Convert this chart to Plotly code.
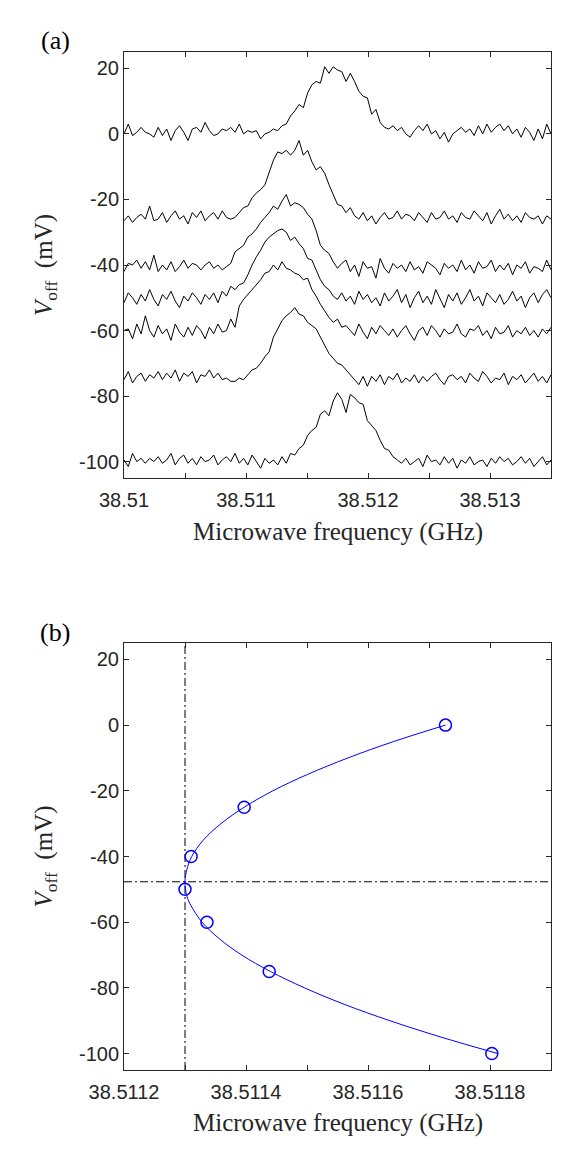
import numpy as np
import plotly.graph_objects as go

W, H = 580, 1174

# ---------------- Panel (a) data ----------------
F_START = 38.51          # GHz, first sweep point
F_STEP = 0.000035        # GHz, sweep step

offsets_a = [0, -25, -40, -50, -60, -75, -100]

trace_0 = [0, 3, -0.5, 0.5, 2, 0.5, 0, -1, 2, -0.5, 1.5, -2, 1, 2.5, 0.5, -2, 1.5, 2, 0.5, 3.5,
           1, -0.5, 0, 1.5, 1, 2, 0.5, 3, 0, 1, 0.5, 1, -1.5,
           0.0, 0.5, 1.5, 1.0, 2.5, 3.0, 5.5, 7.0, 9.0, 8.0, 12.5, 15.0, 16.0, 15.5, 20.5, 18.5, 20.5,
           19.5, 19.0, 16.0, 18.5, 16.0, 13.0, 11.5, 11.0, 6.0, 7.5, 3.5, 2.0, 1.5, 2.5, 1.0, 2.0, 0.0, -1.0,
           1.0, 2.5, 1.0, 3.0, 0.0, 1.0, -1.5, 0.5, -2.5, 0.0, 1.0, 2.0, 0.5, 1.5, -0.5, 2.5, 0.0, 3.0,
           0.5, 2.0, 3.0, 1.0, 2.5, 0.0, 1.5, -1.0, 2.0, 0.5, -2.0, 1.5, -1.5, 3.0, 0.0]

trace_m25 = [-26.5, -25, -27, -25.5, -24.5, -26, -22, -26.5, -26, -24, -27, -25, -23.5, -26, -25,
             -27.5, -24, -25.5, -23.5, -26.5, -25, -24, -26, -23.5, -25.5, -26,
             -25.5, -24, -22.5, -22, -19.5, -18, -17, -15.5, -12, -8, -5.5, -6, -5, -6.5, -5,
             -2, -6.5, -5, -8.5, -11, -10, -12, -15.5, -18.5, -21.5, -22, -24, -22.5, -25, -26, -24, -26.5,
             -25, -27.5, -25.5, -24, -26, -25.5, -23.5, -26, -24.5, -25, -26.5, -24, -25.5, -27, -24,
             -26, -25.5, -23.5, -26, -25, -27, -24, -25.5, -26, -23.5, -25, -26.5, -24, -27.5, -25,
             -23, -26, -24.5, -26.5, -25, -27, -24, -25.5, -26, -25, -27.5, -25, -26]

trace_m40 = [-42, -39.5, -40, -38.5, -41, -39, -41.5, -37, -42, -40, -41.5, -39, -42, -40.5, -38.5,
             -41, -39.5, -40, -41.5, -40, -39, -41, -40, -41.5,
             -40.5, -39.5, -36, -35, -34, -31.5, -30.5, -29, -27, -25.5, -24, -22, -23, -20.5, -18.5,
             -22, -21, -21.5, -22.5, -24.5, -26, -29.5, -34, -35.5, -36.5, -39, -41, -39.5,
             -38.5, -42, -40, -43.5, -39, -41, -40.5, -44, -38, -41, -42.5, -39.5, -41, -40, -42,
             -39, -41.5, -40.5, -42.5, -39, -40, -41, -43, -39.5, -41, -40, -42, -38.5, -41.5, -40,
             -42.5, -39, -41, -40.5, -38.5, -42, -40, -41.5, -39.5, -43, -40, -41, -39, -42.5, -40.5,
             -41, -42, -38.5, -41.5]

trace_m50 = [-51.5, -48.5, -50, -52, -49, -51, -47.5, -50.5, -52.5, -49, -50.5, -48, -51, -53, -49.5,
             -51, -48.5, -50, -52, -49, -50.5, -48.5,
             -51.5, -48, -49.5, -46.5, -47.5, -46, -45.5, -43, -40, -37.5, -35.5, -33, -31.5, -30.5, -29.5,
             -29, -30, -32.5, -31.5, -33.5, -35, -38, -38.5, -41.5, -44.5, -46.5, -47.5, -49.5, -50.5,
             -48.5, -51, -49.5, -52, -48, -50.5, -49, -51.5, -50, -52.5, -48.5, -51, -49.5, -47.5, -51.5,
             -49, -53, -50, -48, -51.5, -49.5, -52, -47.5, -50.5, -53, -49, -51, -48.5, -52, -50,
             -47.5, -51, -49.5, -52.5, -48.5, -50, -51.5, -49, -52, -50.5, -48, -51, -49.5, -53, -50,
             -48.5, -51.5, -49, -47.5, -50]

trace_m60 = [-60, -59.5, -62.5, -58, -61, -55.5, -60, -62, -58.5, -61, -59.5, -63, -58, -60.5, -62,
             -59, -61.5, -58.5, -60, -62.5, -59, -61, -58, -60.5,
             -60, -56.5, -59, -52.5, -50.5, -49, -47.5, -46, -44.5, -42.5, -42, -40, -41.5, -39, -41,
             -41.5, -42.5, -43, -44.5, -44, -47.5, -49.5, -52, -54, -56, -57.5, -56.5, -59,
             -58.5, -60, -61.5, -58, -60.5, -62.5, -59, -61, -58.5, -60, -61.5, -59.5, -62, -60, -58.5,
             -61, -63, -60, -59, -61.5, -58.5, -60, -62, -59.5, -61, -60.5, -58, -61, -62, -59.5,
             -60, -58.5, -61.5, -60, -62.5, -59, -61, -60.5, -58.5, -62, -60, -61, -59, -61.5, -60,
             -62, -59.5, -61, -59]

trace_m75 = [-75, -72.5, -76, -74, -73, -75.5, -73.5, -74.5, -72.5, -75, -73, -74.5, -72, -75.5, -73,
             -74, -72.5, -76, -73.5, -74, -72, -74.5, -73, -75, -74.5, -75.5,
             -75.5, -74.5, -75, -73.5, -72, -71.5, -70, -68, -66.5, -62, -59.5, -57, -55.5, -54.5, -53,
             -55, -55.5, -57.5, -58.5, -59.5, -62, -64.5, -67, -68.5, -70, -70.5, -72, -73.5, -75, -76.5, -74,
             -77, -74, -75.5, -73.5, -76.5, -74, -75, -73, -76, -74.5, -75.5, -73.5, -76, -74, -75.5,
             -74, -73, -75, -76.5, -74, -73.5, -75, -74, -76, -73, -74.5, -75.5, -72.5, -74, -76,
             -74.5, -75, -73, -76.5, -74, -75, -73.5, -76, -74.5, -73, -75.5, -74, -76, -73.5]

trace_m100 = [-99.5, -101.5, -97.5, -100, -99, -100.5, -99, -100, -98.5, -100.5, -99.5, -97.5, -101,
              -99, -98, -100.5, -99, -101, -98.5, -100, -99.5, -98, -101, -99.5, -98.5, -100, -97.5,
              -100.5, -99, -101, -98, -100, -102, -99, -100.5, -99.5,
              -101, -98.5, -100.5, -97.5, -98, -96, -95, -92, -90.5, -89.5, -85.5, -84.5, -86, -81.5, -79,
              -81, -85, -79.5, -80.5, -82, -82.5, -87.5, -89, -90.5, -93.5, -96, -96.5, -98.5, -99.5,
              -100.5, -99,
              -101, -100, -99, -101.5, -98, -100, -99.5, -101, -98.5, -100.5, -99, -102, -99.5, -100.5,
              -98.5, -101, -100, -99.5, -101.5, -99, -100.5, -98.5, -100, -99, -101, -100, -98.5,
              -100.5, -99, -101.5, -100, -98.5, -101, -99.5]

traces_a = [trace_0, trace_m25, trace_m40, trace_m50, trace_m60, trace_m75, trace_m100]

xa_tickvals = [38.51, 38.511, 38.512, 38.513]
xa_ticktext = ["38.51", "38.511", "38.512", "38.513"]
xa_minor = [38.5105, 38.5115, 38.5125, 38.5135]
xa_range = [38.51, 38.5135]

# ---------------- Panel (b) data ----------------
volt_b = [0, -25, -40, -50, -60, -75, -100]
freq_b = [38.511727, 38.511397, 38.51131, 38.5113, 38.511336, 38.511438, 38.511803]

fit_volt = [0, -5, -10, -15, -20, -25, -30, -35, -40, -44, -47.7, -52, -55, -60, -65, -70, -75,
            -80, -85, -90, -95, -100]
fit_freq = [38.511727, 38.511642, 38.511567, 38.511501, 38.511444, 38.511397, 38.511359,
            38.511330, 38.511311, 38.511303, 38.511300, 38.511303, 38.511310, 38.511328,
            38.511356, 38.511393, 38.511440, 38.511496, 38.511561, 38.511636, 38.511720, 38.511813]

f_center = 38.5113     # vertical dash-dot line
v_center = -47.7       # horizontal dash-dot line

xb_tickvals = [38.5112, 38.5114, 38.5116, 38.5118]
xb_ticktext = ["38.5112", "38.5114", "38.5116", "38.5118"]
xb_minor = [38.5113, 38.5115, 38.5117, 38.5119]
xb_range = [38.5112, 38.5119]

y_tickvals = [-100, -80, -60, -40, -20, 0, 20]
y_ticktext = ["-100", "-80", "-60", "-40", "-20", "0", "20"]
y_range = [-105, 25]

# ---------------- Figure ----------------
AX = "rgb(38,38,38)"
SANS = "Liberation Sans, Arial, Helvetica, sans-serif"
SERIF = "Liberation Serif, Times New Roman, serif"

fig = go.Figure()

for tr in traces_a:
    f = F_START + F_STEP * np.arange(len(tr))
    fig.add_trace(go.Scatter(x=f, y=tr, mode="lines", line=dict(color="black", width=1),
                             xaxis="x", yaxis="y", showlegend=False, hoverinfo="skip"))

DASHDOT = "8px,3px,2px,3px"
fig.add_trace(go.Scatter(x=[f_center, f_center], y=y_range, mode="lines",
                         line=dict(color="black", width=1, dash=DASHDOT),
                         xaxis="x2", yaxis="y2", showlegend=False))
fig.add_trace(go.Scatter(x=xb_range, y=[v_center, v_center], mode="lines",
                         line=dict(color="black", width=1, dash=DASHDOT),
                         xaxis="x2", yaxis="y2", showlegend=False))
fig.add_trace(go.Scatter(x=fit_freq, y=fit_volt, mode="lines",
                         line=dict(color="blue", width=1, shape="spline"),
                         xaxis="x2", yaxis="y2", showlegend=False))
fig.add_trace(go.Scatter(x=freq_b, y=volt_b, mode="markers",
                         marker=dict(symbol="circle-open", size=12, color="blue",
                                     line=dict(width=1.5, color="blue")),
                         xaxis="x2", yaxis="y2", showlegend=False))


def px_x(x):
    return x / W


def px_y(y):
    return 1 - y / H


L, R = 124, 551
A_T, A_B = 52, 478
B_T, B_B = 643, 1070

common_axis = dict(showline=True, linecolor=AX, linewidth=1, mirror="ticks", ticks="inside",
                   ticklen=5, tickcolor=AX, tickwidth=1, showgrid=False, zeroline=False,
                   automargin=False, tickfont=dict(family=SANS, size=20, color=AX))
minor_style = dict(ticks="inside", ticklen=5, tickcolor=AX, tickwidth=1, showgrid=False)

fig.update_layout(
    template="none",
    width=W, height=H, margin=dict(l=0, r=0, t=0, b=0, pad=0),
    paper_bgcolor="white", plot_bgcolor="white",
    xaxis=dict(domain=[px_x(L), px_x(R)], range=xa_range, tickvals=xa_tickvals, ticktext=xa_ticktext,
               minor=dict(tickvals=xa_minor, **minor_style), anchor="y", ticklabelstandoff=4,
               **common_axis),
    yaxis=dict(domain=[px_y(A_B), px_y(A_T)], range=y_range, tickvals=y_tickvals, ticktext=y_ticktext,
               anchor="x", **common_axis),
    xaxis2=dict(domain=[px_x(L), px_x(R)], range=xb_range, tickvals=xb_tickvals, ticktext=xb_ticktext,
                minor=dict(tickvals=xb_minor, **minor_style), anchor="y2", ticklabelstandoff=4,
                **common_axis),
    yaxis2=dict(domain=[px_y(B_B), px_y(B_T)], range=y_range, tickvals=y_tickvals, ticktext=y_ticktext,
                anchor="x2", **common_axis),
)

title_font = dict(family=SERIF, size=25, color=AX)
ann = []
for yc in [532, 1123]:
    ann.append(dict(text="Microwave frequency (GHz)", x=px_x((L + R) / 2), y=px_y(yc), xref="paper",
                    yref="paper", showarrow=False, font=title_font, xanchor="center", yanchor="middle"))
for yc in [(A_T + A_B) / 2, (B_T + B_B) / 2]:
    ann.append(dict(text="<i>V</i><sub>off</sub>&nbsp; (mV)", x=px_x(45), y=px_y(yc), xref="paper",
                    yref="paper", showarrow=False, font=title_font, textangle=-90,
                    xanchor="center", yanchor="middle"))
for lab, yc in [("(a)", 40), ("(b)", 632)]:
    ann.append(dict(text=lab, x=px_x(55), y=px_y(yc), xref="paper", yref="paper", showarrow=False,
                    font=dict(family=SERIF, size=26, color="black"), xanchor="center", yanchor="middle"))
fig.update_layout(annotations=ann)

fig.write_html("out.html")
